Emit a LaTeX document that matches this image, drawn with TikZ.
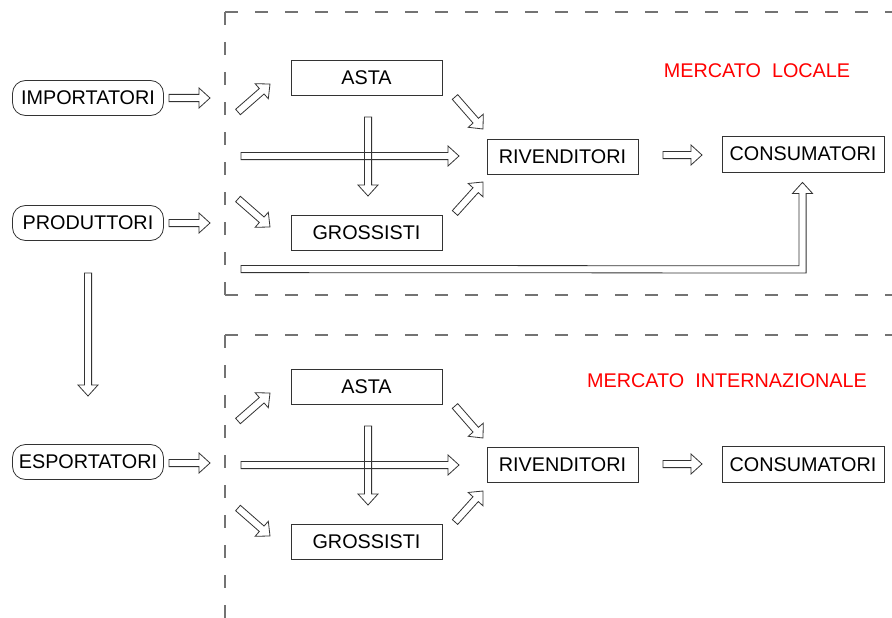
\documentclass[tikz,border=0pt]{standalone}
\usepackage{fontspec}
\setmainfont{Liberation Sans}
\usetikzlibrary{calc}
\tikzset{
  box/.style={draw=black!80, line width=0.8pt, minimum width=151pt, minimum height=35pt, inner sep=0pt, font=\fontsize{19.8}{21}\selectfont},
  rbox/.style={box, rounded corners=13pt},
  blk/.style={draw=black!80, line width=0.8pt, line join=miter},
  frame/.style={draw=black!55, line width=1.2pt, dash pattern=on 13pt off 17pt},
  lbl/.style={text=red, font=\fontsize{19.8}{21}\selectfont, inner sep=0pt}
}
\newcommand\barw[2]{%
  \coordinate (bH) at ($(#2)!11pt!(#1)$);
  \draw[blk] ($(#1)!3.6pt!90:(#2)$) -- ($(bH)!3.6pt!90:(#2)$) -- ($(bH)!10pt!90:(#2)$) -- (#2)
    -- ($(bH)!10pt!-90:(#2)$) -- ($(bH)!3.6pt!-90:(#2)$) -- ($(#1)!3.6pt!-90:(#2)$) -- cycle;}
\begin{document}
\begin{tikzpicture}[x=1pt,y=-1pt]
\useasboundingbox (0,0) rectangle (892,618);
% frames
\coordinate (f1) at (225,12);
\coordinate (f2) at (225,295);
\coordinate (f3) at (225,335);
\draw[frame] (f1) -- (892,12);
\draw[frame] (f1) -- (f2);
\draw[frame] (f2) -- (892,295);
\draw[frame] (f3) -- (892,335);
\draw[frame] (f3) -- (225,625);
% left nodes
\node[rbox] (imp) at (88,98) {IMPORTATORI};
\node[rbox] (prod) at (88,223) {PRODUTTORI};
\node[rbox] (esp) at (88,462) {ESPORTATORI};
% local market
\node[box] (asta1) at (366.5,77.5) {ASTA};
\node[box] (gros1) at (366.5,233) {GROSSISTI};
\node[box] (riv1) at (562.5,156.5) {RIVENDITORI};
\node[box, minimum width=162pt, minimum height=36pt] (cons1) at (803,154) {CONSUMATORI};
\node[lbl] (lab1) at (757,71) {MERCATO\ \ LOCALE};
% international market
\node[box] (asta2) at (366.5,386.5) {ASTA};
\node[box] (gros2) at (366.5,542) {GROSSISTI};
\node[box] (riv2) at (562.5,464.5) {RIVENDITORI};
\node[box, minimum width=162pt, minimum height=36pt] (cons2) at (803,464.5) {CONSUMATORI};
\node[lbl] (lab2) at (727,381) {MERCATO\ \ INTERNAZIONALE};
% arrow end points
\coordinate (a1s) at (169,98);  \coordinate (a1e) at (210,98);
\coordinate (a2s) at (169,223); \coordinate (a2e) at (210,223);
\coordinate (a3s) at (169,463); \coordinate (a3e) at (210,463);
\coordinate (pds) at (88,273);  \coordinate (pde) at (88,396);
\foreach \o/\n in {0/1,309/2}{
  \coordinate (u\n s) at (238,112+\o); \coordinate (u\n e) at (270,84+\o);
  \coordinate (d\n s) at (238,199+\o); \coordinate (d\n e) at (270,227+\o);
  \coordinate (h\n s) at (241,156+\o); \coordinate (h\n e) at (459,156+\o);
  \coordinate (v\n s) at (368,117+\o); \coordinate (v\n e) at (368,196+\o);
  \coordinate (r\n s) at (455,97+\o);  \coordinate (r\n e) at (483,129+\o);
  \coordinate (g\n s) at (455,213+\o); \coordinate (g\n e) at (483,182+\o);
  \coordinate (c\n s) at (663,155+\o); \coordinate (c\n e) at (702,155+\o);
}
\barw{a1s}{a1e}
\barw{a2s}{a2e}
\barw{a3s}{a3e}
\barw{pds}{pde}
\foreach \n in {1,2}{
  \barw{u\n s}{u\n e}
  \barw{d\n s}{d\n e}
  \barw{h\n s}{h\n e}
  \barw{v\n s}{v\n e}
  \barw{r\n s}{r\n e}
  \barw{g\n s}{g\n e}
  \barw{c\n s}{c\n e}
}
% L-shaped arrow to local consumers
\coordinate (ltip) at ($(cons1.south)+(-0.5,10)$);
\draw[blk] (241,265.4) -- ($(ltip)+(-3.6,83.4)$) -- ($(ltip)+(-3.6,11)$) -- ($(ltip)+(-10,11)$) -- (ltip)
  -- ($(ltip)+(10,11)$) -- ($(ltip)+(3.6,11)$) -- ($(ltip)+(3.6,90.6)$) -- (241,272.6) -- cycle;
\end{tikzpicture}
\end{document}
